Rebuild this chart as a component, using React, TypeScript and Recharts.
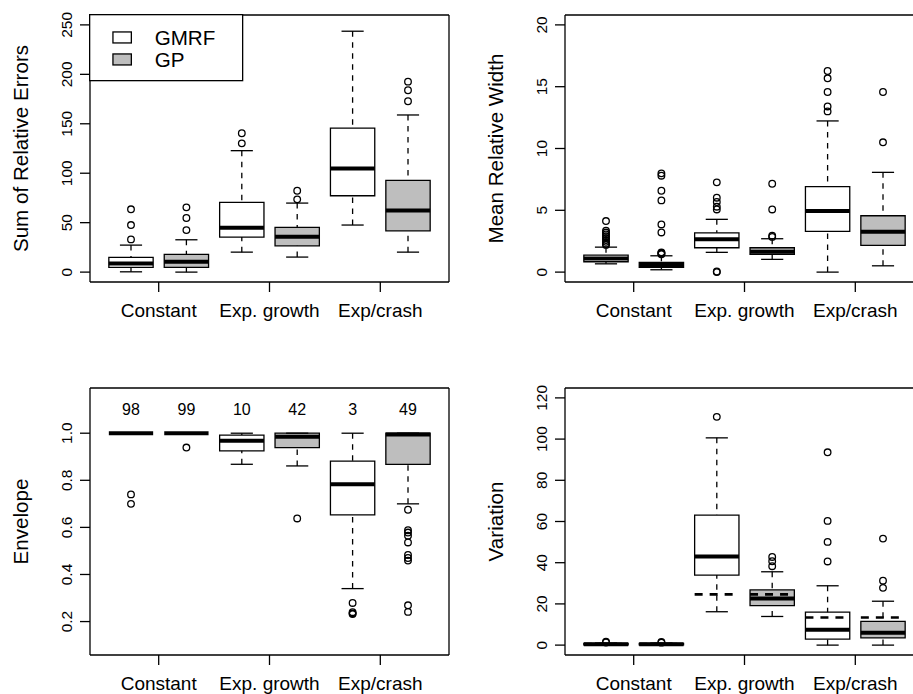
import React from 'react';
import { ComposedChart, XAxis, YAxis, Scatter, ReferenceArea, ReferenceLine, Label, Legend } from 'recharts';

const FONT = '"Liberation Sans", Arial, Helvetica, sans-serif';
const GREY = '#bebebe';

const groups = ['Constant', 'Exp. growth', 'Exp/crash'];
const methods = ['GMRF', 'GP'];
const methodFill = ['#ffffff', GREY];
const boxX = [1, 2, 3, 4, 5, 6];
const groupTicks = [1.5, 3.5, 5.5];
const xDomain = [0.26, 6.74];

// Sum of Relative Errors
const sreLow = [0.3, 0, 20.2, 15.2, 47.6, 20.2];
const sreQ1 = [4.8, 4.8, 35.4, 26.6, 77.2, 41.8];
const sreMed = [8.8, 10.4, 44.8, 35.7, 104.9, 62.4];
const sreQ3 = [14.9, 17.9, 70.5, 45.2, 145.7, 92.8];
const sreHigh = [27.3, 32.7, 122.8, 69.8, 243.6, 158.9];
const sreOut = [[33.1, 47.6, 63.5], [42.5, 54.7, 65.5], [130.2, 140.4], [73.6, 82.3], [], [172.8, 183.9, 192.6]];
const sreTicks = [0, 50, 100, 150, 200, 250];

// Mean Relative Width
const mrwLow = [0.67, 0.19, 1.6, 1.03, 0, 0.51];
const mrwQ1 = [0.84, 0.38, 1.97, 1.43, 3.29, 2.16];
const mrwMed = [1.11, 0.57, 2.65, 1.65, 4.94, 3.27];
const mrwQ3 = [1.38, 0.78, 3.18, 1.97, 6.91, 4.56];
const mrwHigh = [2.02, 1.32, 4.27, 2.7, 12.23, 8.07];
const mrwOut = [
  [4.13, 3.35, 3.2, 3.05, 2.9, 2.75, 2.6, 2.45, 2.3, 2.2],
  [7.99, 7.8, 6.58, 5.8, 3.86, 3.21, 1.6, 1.55, 1.5, 1.45],
  [7.26, 6.02, 5.67, 5.29, 5.07, 0.05, 0],
  [7.15, 5.07, 2.95, 2.85],
  [16.27, 15.68, 14.57, 13.4, 13.0],
  [14.57, 10.5],
];
const mrwTicks = [0, 5, 10, 15, 20];

// Envelope
const envLow = [1, 1, 0.868, 0.861, 0.34, 0.7];
const envQ1 = [1, 1, 0.925, 0.939, 0.653, 0.868];
const envMed = [1, 1, 0.968, 0.985, 0.783, 0.995];
const envQ3 = [1, 1, 0.992, 1, 0.881, 1];
const envHigh = [1, 1, 1, 1, 1, 1];
const envOut = [
  [0.74, 0.7],
  [0.939],
  [],
  [0.638],
  [0.279, 0.24, 0.235, 0.232],
  [0.675, 0.588, 0.578, 0.565, 0.536, 0.483, 0.47, 0.459, 0.269, 0.241],
];
const envCounts = [98, 99, 10, 42, 3, 49];
const envTicks = [0.2, 0.4, 0.6, 0.8, 1.0];

// Variation
const varLow = [0, 0, 16.2, 13.9, 0, 0];
const varQ1 = [0.1, 0.1, 34.0, 19.2, 2.9, 3.5];
const varMed = [0.4, 0.4, 43.0, 22.6, 7.4, 6.0];
const varQ3 = [0.8, 0.8, 63.1, 26.8, 16.0, 11.5];
const varHigh = [1.0, 1.0, 100.6, 35.6, 28.8, 21.3];
const varOut = [[1.3, 1.6], [1.2, 1.5], [110.8], [38.3, 40.7, 42.8], [40.6, 50.1, 60.3, 93.6], [27.8, 31.3, 51.7]];
const varRef = [0.5, 0.5, 24.6, 24.6, 13.4, 13.4];
const varTicks = [0, 20, 40, 60, 80, 100, 120];

const XTick = (p: any) => {
  const idx = groupTicks.indexOf(p.payload.value);
  return (
    <text x={p.x} y={p.y + 25} textAnchor="middle" fontSize={19} fontFamily={FONT} fill="#000">
      {groups[idx]}
    </text>
  );
};

const YTick = (p: any) => {
  const bx = p.x - 8;
  return (
    <text x={bx} y={p.y} transform={`rotate(-90 ${bx} ${p.y})`} textAnchor="middle" fontSize={15.5} fontFamily={FONT} fill="#000">
      {p.fmt(p.payload.value)}
    </text>
  );
};

const LegendBox = () => (
  <svg width={155} height={68} style={{ display: 'block' }}>
    <rect x={0.65} y={0.65} width={153} height={66} fill="#fff" stroke="#000" strokeWidth={1.3} />
    {methods.map((m, i) => (
      <g key={m}>
        <rect x={23.95} y={17.95 + i * 22} width={18.4} height={11} fill={methodFill[i]} stroke="#000" strokeWidth={1.3} />
        <text x={65.65} y={30.65 + i * 22} fontSize={20.6} fontFamily={FONT} fill="#000">{m}</text>
      </g>
    ))}
  </svg>
);

function BoxPanel(props: any) {
  const { left, top, title, domain, ticks, fmt, low, q1, med, q3, high, out, refs, counts, legend } = props;
  const outPts = out.flatMap((vals: number[], i: number) => vals.map((y) => ({ x: boxX[i], y })));
  const countPts = counts ? counts.map((n: number, i: number) => ({ x: boxX[i], y: 1.1, n })) : [];
  const line = { stroke: '#000', strokeWidth: 1.3 };

  return (
    <div style={{ position: 'absolute', left, top, width: 475, height: 373 }}>
      <ComposedChart width={475} height={373} margin={{ top: 15, right: 26, bottom: 61, left: 0 }}>
        <XAxis
          type="number"
          dataKey="x"
          domain={xDomain}
          ticks={groupTicks}
          interval={0}
          allowDataOverflow
          axisLine={false}
          tickLine={line}
          tickSize={10}
          tickMargin={0}
          height={30}
          tick={XTick}
        />
        <YAxis
          type="number"
          dataKey="y"
          domain={domain}
          ticks={ticks}
          interval={0}
          allowDataOverflow
          axisLine={false}
          tickLine={line}
          tickSize={10}
          tickMargin={0}
          width={90}
          tick={(p: any) => <YTick {...p} fmt={fmt} />}
        >
          <Label
            content={(lp: any) => {
              const vb = lp.viewBox || { x: 0, y: 15, height: 267 };
              const lx = vb.x + 28;
              const ly = vb.y + vb.height / 2;
              return (
                <text x={lx} y={ly} transform={`rotate(-90 ${lx} ${ly})`} textAnchor="middle" fontSize={20.6} fontFamily={FONT} fill="#000">
                  {title}
                </text>
              );
            }}
          />
        </YAxis>

        {/* whiskers */}
        {boxX.map((x, i) => (
          <ReferenceLine key={'wh' + i} segment={[{ x, y: high[i] }, { x, y: q3[i] }]} {...line} strokeDasharray="5.5 5.5" ifOverflow="visible" />
        ))}
        {boxX.map((x, i) => (
          <ReferenceLine key={'wl' + i} segment={[{ x, y: low[i] }, { x, y: q1[i] }]} {...line} strokeDasharray="5.5 5.5" ifOverflow="visible" />
        ))}
        {/* staples */}
        {boxX.map((x, i) => (
          <ReferenceLine key={'sh' + i} segment={[{ x: x - 0.2, y: high[i] }, { x: x + 0.2, y: high[i] }]} {...line} ifOverflow="visible" />
        ))}
        {boxX.map((x, i) => (
          <ReferenceLine key={'sl' + i} segment={[{ x: x - 0.2, y: low[i] }, { x: x + 0.2, y: low[i] }]} {...line} ifOverflow="visible" />
        ))}
        {/* boxes */}
        {boxX.map((x, i) => (
          <ReferenceArea
            key={'b' + i}
            x1={x - 0.4}
            x2={x + 0.4}
            y1={q1[i]}
            y2={q3[i]}
            fill={methodFill[i % 2]}
            fillOpacity={1}
            {...line}
            ifOverflow="visible"
          />
        ))}
        {/* medians */}
        {boxX.map((x, i) => (
          <ReferenceLine key={'m' + i} segment={[{ x: x - 0.4, y: med[i] }, { x: x + 0.4, y: med[i] }]} stroke="#000" strokeWidth={4} ifOverflow="visible" />
        ))}
        {refs &&
          boxX.map((x, i) => (
            <ReferenceLine key={'r' + i} segment={[{ x: x - 0.4, y: refs[i] }, { x: x + 0.4, y: refs[i] }]} stroke="#000" strokeWidth={2.7} strokeDasharray="8 7" ifOverflow="visible" />
          ))}
        {/* plot frame */}
        <ReferenceLine x={xDomain[0]} {...line} ifOverflow="visible" />
        <ReferenceLine x={xDomain[1]} {...line} ifOverflow="visible" />
        <ReferenceLine y={domain[0]} {...line} ifOverflow="visible" />
        <ReferenceLine y={domain[1]} {...line} ifOverflow="visible" />

        <Scatter
          data={outPts}
          isAnimationActive={false}
          shape={(p: any) => <circle cx={p.cx} cy={p.cy} r={3.3} fill="none" stroke="#000" strokeWidth={1.3} />}
        />
        {counts && (
          <Scatter
            data={countPts}
            isAnimationActive={false}
            shape={(p: any) => (
              <text x={p.cx} y={p.cy} dy="0.36em" textAnchor="middle" fontSize={16} fontFamily={FONT} fill="#000">
                {p.payload?.n}
              </text>
            )}
          />
        )}
        {legend && (
          <Legend
            layout="vertical"
            align="center"
            verticalAlign="middle"
            wrapperStyle={{ left: 89.35, top: 14.35, width: 155, height: 68 }}
            content={() => <LegendBox />}
          />
        )}
      </ComposedChart>
    </div>
  );
}

export default function App() {
  return (
    <div style={{ position: 'absolute', left: 0, top: 0, width: 913, height: 694, overflow: 'hidden', background: '#fff', fontFamily: FONT }}>
      <BoxPanel
        left={0}
        top={0}
        title="Sum of Relative Errors"
        domain={[-10, 260]}
        ticks={sreTicks}
        fmt={(v: number) => String(v)}
        low={sreLow}
        q1={sreQ1}
        med={sreMed}
        q3={sreQ3}
        high={sreHigh}
        out={sreOut}
        legend
      />
      <BoxPanel
        left={474.7}
        top={0}
        title="Mean Relative Width"
        domain={[-0.8, 20.8]}
        ticks={mrwTicks}
        fmt={(v: number) => String(v)}
        low={mrwLow}
        q1={mrwQ1}
        med={mrwMed}
        q3={mrwQ3}
        high={mrwHigh}
        out={mrwOut}
      />
      <BoxPanel
        left={0}
        top={372.5}
        title="Envelope"
        domain={[0.058, 1.192]}
        ticks={envTicks}
        fmt={(v: number) => v.toFixed(1)}
        low={envLow}
        q1={envQ1}
        med={envMed}
        q3={envQ3}
        high={envHigh}
        out={envOut}
        counts={envCounts}
      />
      <BoxPanel
        left={474.7}
        top={372.5}
        title="Variation"
        domain={[-4.8, 124.8]}
        ticks={varTicks}
        fmt={(v: number) => String(v)}
        low={varLow}
        q1={varQ1}
        med={varMed}
        q3={varQ3}
        high={varHigh}
        out={varOut}
        refs={varRef}
      />
    </div>
  );
}
